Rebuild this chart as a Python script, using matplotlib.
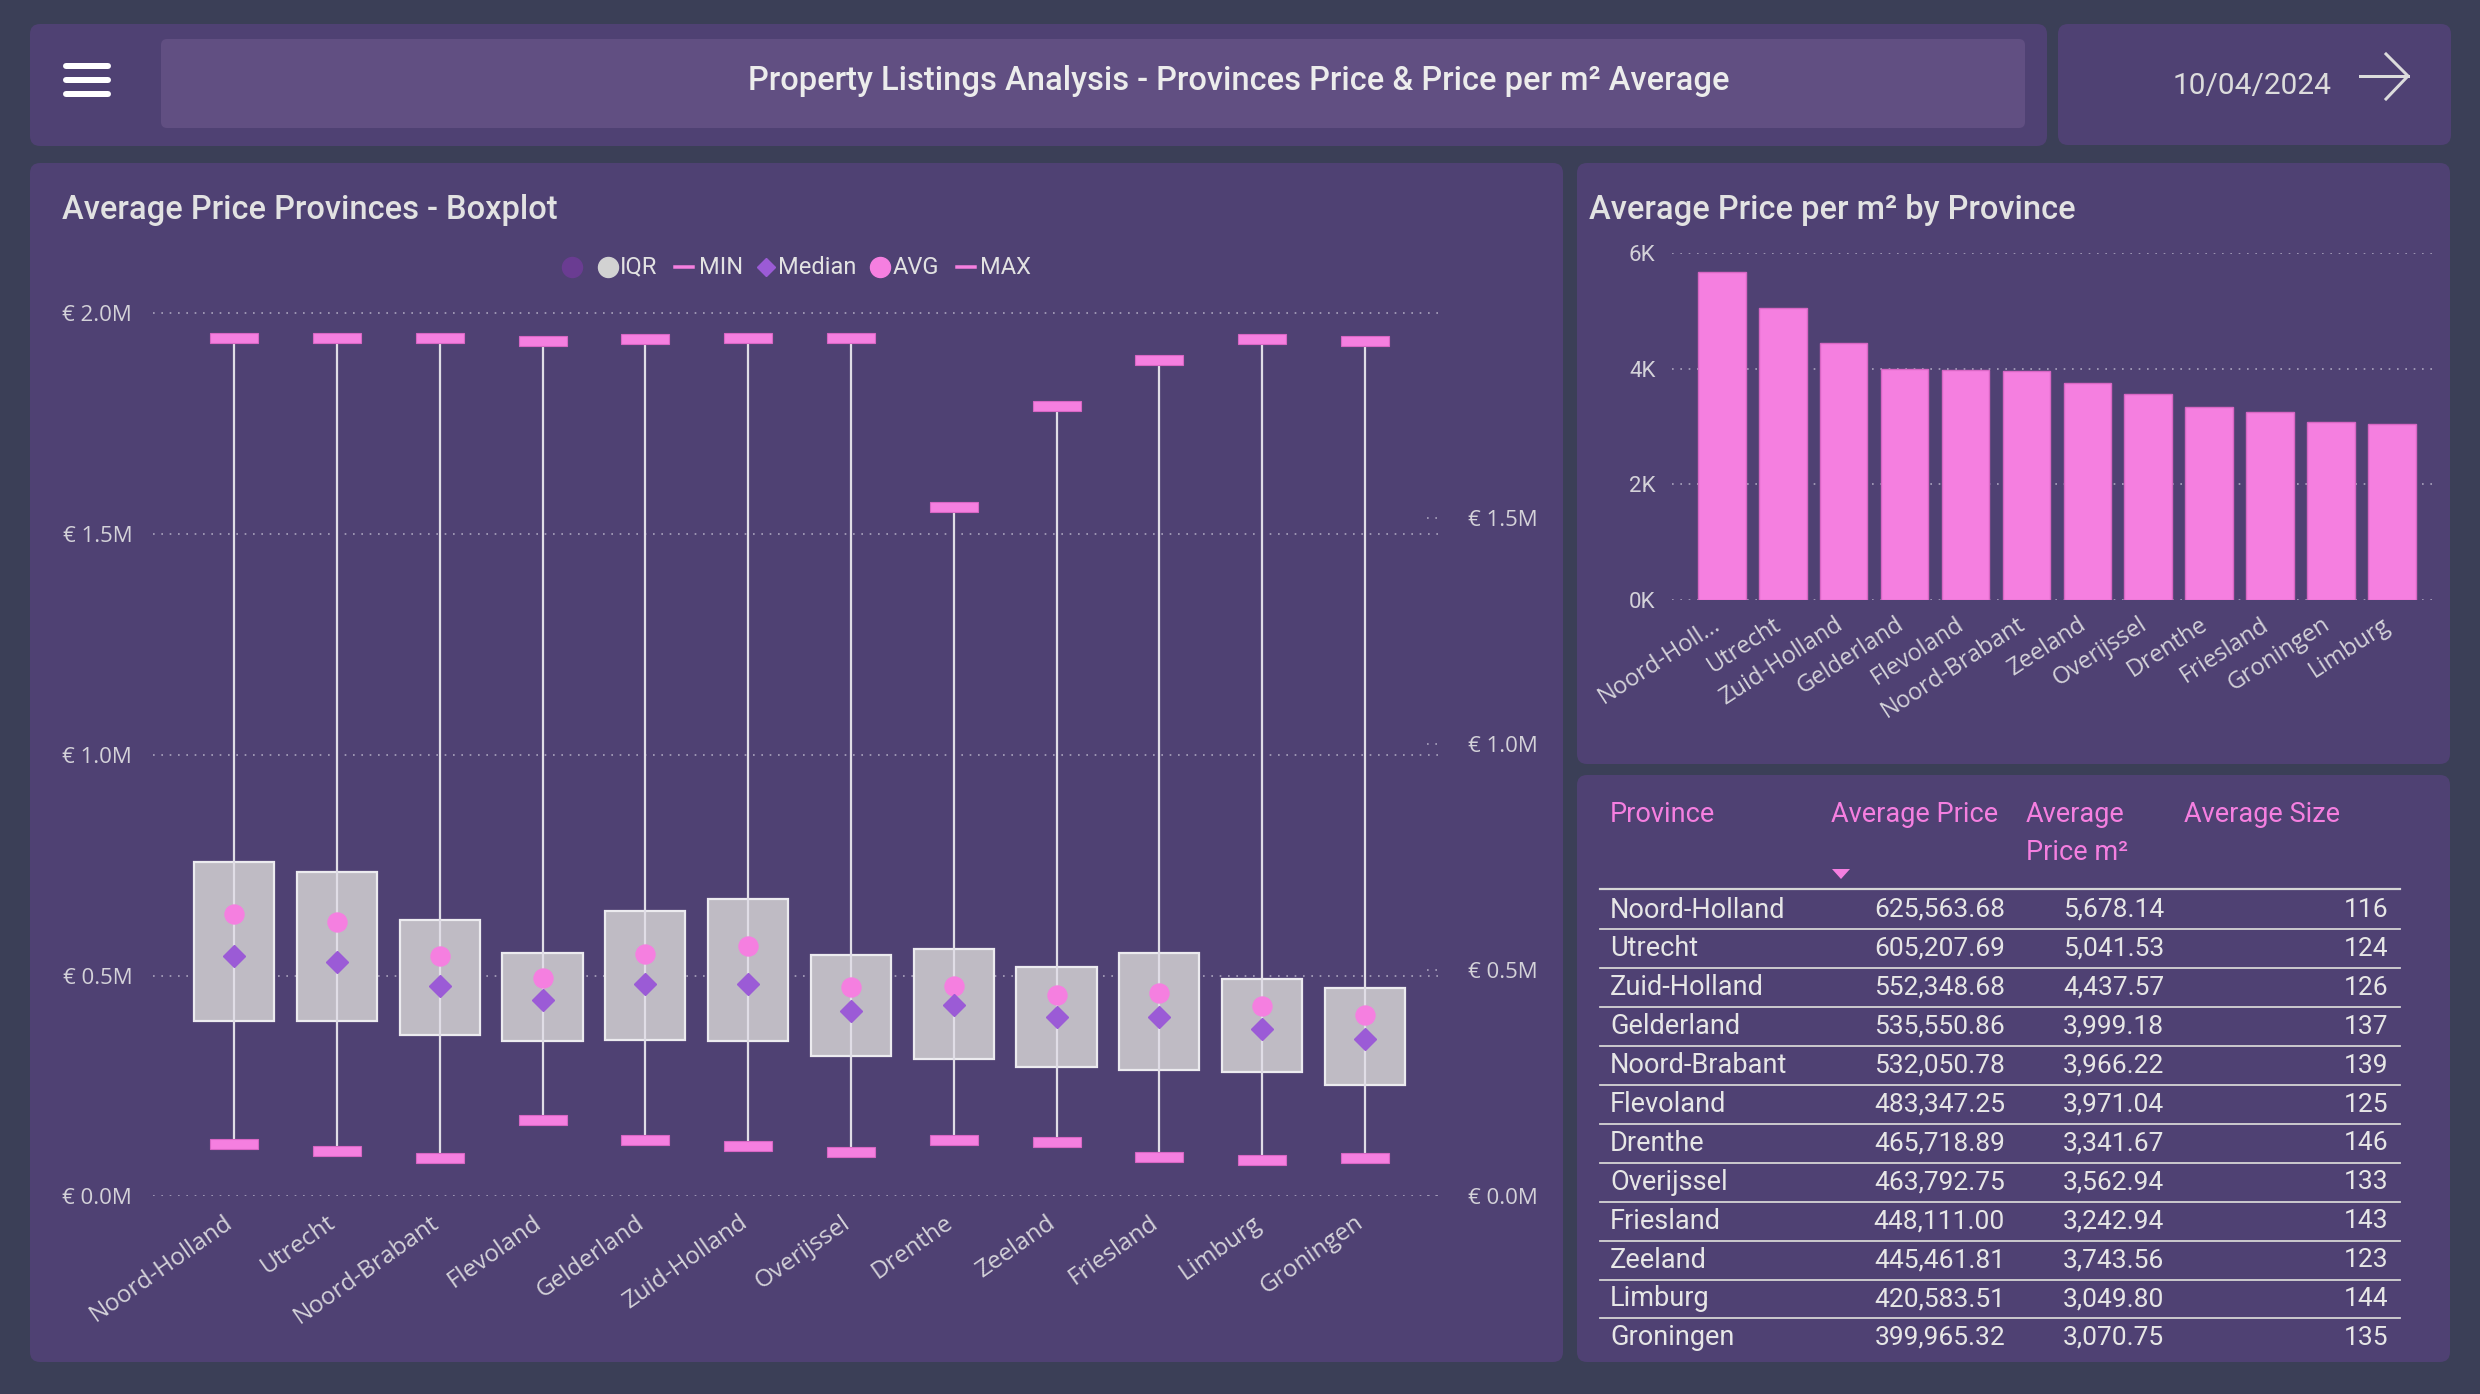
import matplotlib
matplotlib.use("Agg")
import matplotlib.pyplot as plt
from matplotlib.patches import FancyBboxPatch, Polygon
from matplotlib.ticker import FuncFormatter, FixedLocator

# ---------------- data ----------------
box_provinces = ["Noord-Holland", "Utrecht", "Noord-Brabant", "Flevoland", "Gelderland",
                 "Zuid-Holland", "Overijssel", "Drenthe", "Zeeland", "Friesland",
                 "Limburg", "Groningen"]
box_q1 = [0.396e6, 0.397e6, 0.366e6, 0.352e6, 0.353e6, 0.352e6, 0.318e6, 0.310e6, 0.293e6, 0.287e6, 0.282e6, 0.252e6]
box_q3 = [0.757e6, 0.735e6, 0.625e6, 0.550e6, 0.647e6, 0.673e6, 0.547e6, 0.559e6, 0.520e6, 0.550e6, 0.492e6, 0.471e6]
box_median = [0.545e6, 0.530e6, 0.476e6, 0.444e6, 0.481e6, 0.481e6, 0.420e6, 0.434e6, 0.405e6, 0.405e6, 0.380e6, 0.357e6]
box_avg = [0.640e6, 0.620e6, 0.545e6, 0.495e6, 0.548e6, 0.566e6, 0.474e6, 0.477e6, 0.457e6, 0.460e6, 0.430e6, 0.410e6]
box_min = [0.118e6, 0.103e6, 0.087e6, 0.173e6, 0.128e6, 0.114e6, 0.100e6, 0.128e6, 0.123e6, 0.090e6, 0.083e6, 0.087e6]
box_max = [1.943e6, 1.943e6, 1.943e6, 1.937e6, 1.940e6, 1.943e6, 1.943e6, 1.561e6, 1.790e6, 1.894e6, 1.940e6, 1.937e6]
box_left_ticks = [0, 0.5e6, 1.0e6, 1.5e6, 2.0e6]
box_right_ticks = [0, 0.5e6, 1.0e6, 1.5e6]

bar_provinces = ["Noord-Holland", "Utrecht", "Zuid-Holland", "Gelderland", "Flevoland",
                 "Noord-Brabant", "Zeeland", "Overijssel", "Drenthe", "Friesland",
                 "Groningen", "Limburg"]
bar_labels = ["Noord-Holl...", "Utrecht", "Zuid-Holland", "Gelderland", "Flevoland",
              "Noord-Brabant", "Zeeland", "Overijssel", "Drenthe", "Friesland",
              "Groningen", "Limburg"]
bar_values = [5678.14, 5041.53, 4437.57, 3999.18, 3971.04, 3966.22, 3743.56, 3562.94,
              3341.67, 3242.94, 3070.75, 3049.80]
bar_ticks = [0, 2000, 4000, 6000]

table_columns = ["Province", "Average Price", "Average\nPrice m²", "Average Size"]
table_provinces = ["Noord-Holland", "Utrecht", "Zuid-Holland", "Gelderland", "Noord-Brabant",
                   "Flevoland", "Drenthe", "Overijssel", "Friesland", "Zeeland", "Limburg",
                   "Groningen"]
table_avg_price = [625563.68, 605207.69, 552348.68, 535550.86, 532050.78, 483347.25,
                   465718.89, 463792.75, 448111.00, 445461.81, 420583.51, 399965.32]
table_price_m2 = [5678.14, 5041.53, 4437.57, 3999.18, 3966.22, 3971.04, 3341.67, 3562.94,
                  3242.94, 3743.56, 3049.80, 3070.75]
table_size = [116, 124, 126, 137, 139, 125, 146, 133, 143, 123, 144, 135]

legend_labels = ["IQR", "MIN", "Median", "AVG", "MAX"]
title_text = "Property Listings Analysis - Provinces Price & Price per m² Average"
date_text = "10/04/2024"

# ---------------- style ----------------
BG = "#3b3f57"
PANEL = "#4f4173"
HEADBOX = "#614f82"
PINK = "#f57fe0"
PINK_EDGE = "#d866c4"
PURPLE = "#9b5bd6"
BOXFILL = "#bfbbc4"
BOXEDGE = "#ecebef"
WHISK = "#e0dde6"
TXT = "#e2e2e2"
TICK = "#d4d2d9"
GRID = "#aaa3bd"
DIN = "Roboto"
SEG = "Open Sans"

W, H = 2480, 1394
fig = plt.figure(figsize=(W / 100, H / 100), dpi=100, facecolor=BG)
PX = 0.72  # points per pixel

bg = fig.add_axes([0, 0, 1, 1])
bg.set_xlim(0, W)
bg.set_ylim(H, 0)
bg.axis("off")
bg.set_zorder(0)


def panel(x0, y0, x1, y1, color, r=10):
    bg.add_patch(FancyBboxPatch((x0, y0), x1 - x0, y1 - y0,
                                boxstyle=f"round,pad=0,rounding_size={r}",
                                fc=color, ec="none", zorder=1))


panel(30, 24, 2047, 146, PANEL)
panel(161, 39, 2025, 128, HEADBOX, 6)
panel(2058, 24, 2451, 145, PANEL)
panel(30, 163, 1563, 1362, PANEL)
panel(1577, 163, 2450, 764, PANEL)
panel(1577, 775, 2450, 1362, PANEL)

# hamburger icon
for yy in (66, 80, 94):
    bg.plot([66, 108], [yy, yy], color="white", lw=6 * PX, solid_capstyle="round", zorder=3)

bg.text(1239, 81, title_text, ha="center", va="center", fontsize=23.5, weight="medium",
        family=DIN, color="#ececec", zorder=3)
bg.text(2173, 86, date_text, ha="left", va="center", fontsize=21.5,
        family=DIN, color="#dcdcdc", zorder=3)
# arrow
bg.plot([2360, 2408], [76, 76], color="#dcdcdc", lw=3 * PX, zorder=3)
bg.plot([2386, 2408, 2386], [54, 76, 99], color="#dcdcdc", lw=3 * PX, zorder=3)

bg.text(62, 210, "Average Price Provinces - Boxplot", ha="left", va="center",
        fontsize=23.5, weight="medium", family=DIN, color=TXT, zorder=3)
bg.text(1589, 210, "Average Price per m² by Province", ha="left", va="center",
        fontsize=23.5, weight="medium", family=DIN, color=TXT, zorder=3)

# legend for boxplot
ly = 267
LFS = 17
bg.plot([572], [ly], "o", ms=20 * PX, color="#6a3c92", zorder=3)
bg.plot([608], [ly], "o", ms=20 * PX, color="#d2d2d2", zorder=3)
bg.text(620, ly, legend_labels[0], ha="left", va="center", fontsize=LFS, family=DIN, color=TXT, zorder=3)
bg.plot([675, 693], [ly, ly], color=PINK, lw=3.5 * PX, zorder=3)
bg.text(699, ly, legend_labels[1], ha="left", va="center", fontsize=LFS, family=DIN, color=TXT, zorder=3)
bg.plot([766], [ly], "D", ms=13 * PX, color=PURPLE, zorder=3)
bg.text(778, ly, legend_labels[2], ha="left", va="center", fontsize=LFS, family=DIN, color=TXT, zorder=3)
bg.plot([880], [ly], "o", ms=20 * PX, color=PINK, zorder=3)
bg.text(893, ly, legend_labels[3], ha="left", va="center", fontsize=LFS, family=DIN, color=TXT, zorder=3)
bg.plot([957, 975], [ly, ly], color=PINK, lw=3.5 * PX, zorder=3)
bg.text(980, ly, legend_labels[4], ha="left", va="center", fontsize=LFS, family=DIN, color=TXT, zorder=3)

# ---------------- boxplot ----------------
bx0, bx1, by_top, by_bot = 153, 1442, 300, 1196.4
ax = fig.add_axes([bx0 / W, (H - by_bot) / H, (bx1 - bx0) / W, (by_bot - by_top) / H])
ax.set_facecolor("none")
ax.set_zorder(2)
n = len(box_provinces)
xs = list(range(n))
ax.set_xlim(-0.79, 11.75)
ytop_left = 2.029e6
ax.set_ylim(0, ytop_left)
px_per_val = (by_bot - by_top) / ytop_left
cap_h = 10 / px_per_val
cap_w = 48 / ((bx1 - bx0) / (11.75 + 0.79))

heights = [q3 - q1 for q1, q3 in zip(box_q1, box_q3)]
ax.bar(xs, heights, bottom=box_q1, width=0.78, color=BOXFILL, edgecolor=BOXEDGE,
       linewidth=1.6, zorder=2)
ax.vlines(xs, box_min, box_max, color=WHISK, lw=1.6, zorder=3)
ax.bar(xs, [cap_h] * n, bottom=[v - cap_h / 2 for v in box_max], width=cap_w,
       color=PINK, edgecolor=PINK_EDGE, linewidth=0.8, zorder=4)
ax.bar(xs, [cap_h] * n, bottom=[v - cap_h / 2 for v in box_min], width=cap_w,
       color=PINK, edgecolor=PINK_EDGE, linewidth=0.8, zorder=4)
ax.plot(xs, box_avg, "o", ms=19 * PX, color=PINK, zorder=5, lw=0)
ax.plot(xs, box_median, "D", ms=15.5 * PX, color=PURPLE, zorder=5, lw=0)

ax.yaxis.set_major_locator(FixedLocator(box_left_ticks))
ax.yaxis.set_major_formatter(FuncFormatter(lambda v, p: f"€ {v / 1e6:.1f}M"))
ax.grid(axis="y", color=GRID, linestyle=(0, (1, 4)), lw=1.2, zorder=0)
ax.set_axisbelow(True)
ax.set_xticks(xs)
ax.set_xticklabels(box_provinces, rotation=35, ha="right", va="baseline", rotation_mode="anchor",
                   family=SEG, fontsize=17.5, color=TICK)
ax.tick_params(axis="x", length=0, pad=21)
ax.tick_params(axis="y", length=0, pad=15, labelsize=16, labelcolor=TICK)
for lab in ax.get_yticklabels():
    lab.set_family(SEG)
for s in ax.spines.values():
    s.set_visible(False)

ax2 = ax.twinx()
ax2.set_ylim(0, 1.981e6)
ax2.yaxis.set_major_locator(FixedLocator(box_right_ticks))
ax2.yaxis.set_major_formatter(FuncFormatter(lambda v, p: f"€ {v / 1e6:.1f}M"))
ax2.tick_params(axis="y", length=0, pad=19, labelsize=16, labelcolor=TICK)
for lab in ax2.get_yticklabels():
    lab.set_family(SEG)
ax2.hlines(box_right_ticks, 11.6, 11.75, color=GRID, linestyle=(0, (1, 4)), lw=1.2)
for s in ax2.spines.values():
    s.set_visible(False)

# ---------------- bar chart ----------------
cx0, cx1, cy_top, cy_bot = 1672, 2432, 253, 600
bax = fig.add_axes([cx0 / W, (H - cy_bot) / H, (cx1 - cx0) / W, (cy_bot - cy_top) / H])
bax.set_facecolor("none")
bax.set_zorder(2)
bxs = list(range(len(bar_values)))
bax.bar(bxs, bar_values, width=0.78, color=PINK, edgecolor=PINK_EDGE, linewidth=1, zorder=2)
bax.set_xlim(-0.82, 11.66)
bax.set_ylim(0, 6000)
bax.yaxis.set_major_locator(FixedLocator(bar_ticks))
bax.yaxis.set_major_formatter(FuncFormatter(lambda v, p: f"{v / 1000:.0f}K"))
bax.grid(axis="y", color=GRID, linestyle=(0, (1, 4)), lw=1.2)
bax.set_axisbelow(True)
bax.set_xticks(bxs)
bax.set_xticklabels(bar_labels, rotation=33, ha="right", va="baseline", rotation_mode="anchor",
                    family=SEG, fontsize=17, color=TICK)
bax.tick_params(axis="x", length=0, pad=20)
bax.tick_params(axis="y", length=0, pad=12, labelsize=16, labelcolor=TICK)
for lab in bax.get_yticklabels():
    lab.set_family(DIN)
for s in bax.spines.values():
    s.set_visible(False)

# ---------------- table ----------------
hy = 815
TFS = 19.5
col_x = [1610, 1831, 2026, 2184]
bg.text(col_x[0], hy, table_columns[0], ha="left", va="center", fontsize=TFS, family=DIN, color=PINK, zorder=3)
bg.text(col_x[1], hy, table_columns[1], ha="left", va="center", fontsize=TFS, family=DIN, color=PINK, zorder=3)
c2a, c2b = table_columns[2].split("\n")
bg.text(col_x[2], hy, c2a, ha="left", va="center", fontsize=TFS, family=DIN, color=PINK, zorder=3)
bg.text(col_x[2], hy + 37, c2b, ha="left", va="center", fontsize=TFS, family=DIN, color=PINK, zorder=3)
bg.text(col_x[3], hy, table_columns[3], ha="left", va="center", fontsize=TFS, family=DIN, color=PINK, zorder=3)
bg.add_patch(Polygon([[1832, 869], [1850, 869], [1841, 879]], closed=True, fc=PINK, ec="none", zorder=3))

bg.plot([1600, 2400], [889, 889], color="#d6d6d6", lw=2.2 * PX, zorder=3)
row0, rstep = 910, 38.9
for i, (prov, ap, pm, sz) in enumerate(zip(table_provinces, table_avg_price, table_price_m2, table_size)):
    yy = row0 + i * rstep
    bg.text(1610, yy, prov, ha="left", va="center", fontsize=TFS, family=DIN, color="#e6e6e6", zorder=3)
    bg.text(2005, yy, f"{ap:,.2f}", ha="right", va="center", fontsize=19, family=DIN, color="#e6e6e6", zorder=3)
    bg.text(2164, yy, f"{pm:,.2f}", ha="right", va="center", fontsize=19, family=DIN, color="#e6e6e6", zorder=3)
    bg.text(2388, yy, f"{sz}", ha="right", va="center", fontsize=19, family=DIN, color="#e6e6e6", zorder=3)
    if i < len(table_provinces) - 1:
        ly2 = row0 + (i + 0.5) * rstep
        bg.plot([1600, 2400], [ly2, ly2], color="#d6d6d6", lw=1.8 * PX, zorder=3)

fig.savefig("out.png", dpi=100, facecolor=BG)
